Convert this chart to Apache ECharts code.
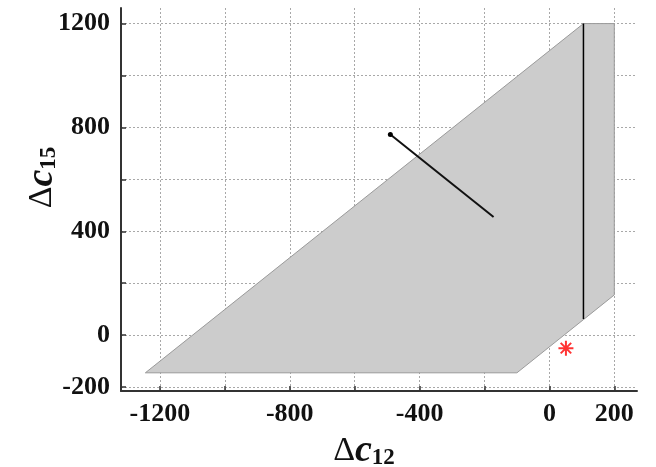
<!DOCTYPE html>
<html>
<head>
<meta charset="utf-8">
<script src="https://cdn.jsdelivr.net/npm/echarts@6/dist/echarts.min.js"></script>
<style>html,body{margin:0;padding:0;background:#fff}#c{width:656px;height:467px}</style>
</head>
<body>
<div id="c"></div>
<script>
// Tick positions and labels
const xTicks = [-1200, -1000, -800, -600, -400, -200, 0, 200];
const xTickLabels = [-1200, -800, -400, 0, 200];
const yTicks = [-200, 0, 200, 400, 600, 800, 1000, 1200];
const yTickLabels = [-200, 0, 400, 800, 1200];

// Feasible region polygon (vertices)
const regionX = [-1245, -100, 200, 200, 105];
const regionY = [-145, -145, 155, 1200, 1200];

// Vertical boundary line
const boundaryX = [105, 105];
const boundaryY = [1200, 62];

// Path segment
const pathX = [-490, -172];
const pathY = [773, 455];

// Red marker
const markerX = [51];
const markerY = [-50];

const FONT = '"Liberation Serif", "DejaVu Serif", serif';
const chart = echarts.init(document.getElementById('c'), null, {renderer: 'canvas'});

const nameRich = {
  d: {fontFamily: FONT, fontSize: 34, fontWeight: 'normal', color: '#111'},
  c: {fontFamily: FONT, fontSize: 38, fontStyle: 'italic', fontWeight: 'bold', color: '#111'},
  s: {fontFamily: FONT, fontSize: 23, fontWeight: 'bold', color: '#111', verticalAlign: 'bottom', padding: [14, 0, 0, 0]}
};

const axisColor = '#333';
const gridStyle = {show: true, lineStyle: {color: '#a8a8a8', type: [2, 2], width: 1}};
const fmt = v => String(v);

const option = {
  animation: false,
  grid: {left: 121, right: 19, top: 8, bottom: 76, containLabel: false, outerBoundsMode: 'none'},
  xAxis: {
    type: 'value', min: -1320, max: 270,
    name: '{d|Δ}{c|c}{s|12}', nameLocation: 'middle', nameGap: 34,
    nameTextStyle: {rich: nameRich, padding: [0, 30, 0, 0]},
    axisLine: {show: true, onZero: false, lineStyle: {color: axisColor, width: 2}},
    axisTick: {show: true, inside: true, length: 5, customValues: xTicks, lineStyle: {color: axisColor, width: 1.5}},
    axisLabel: {customValues: xTickLabels, formatter: fmt, margin: 10, fontFamily: FONT, fontWeight: 'bold', fontSize: 26, color: '#111'},
    splitLine: gridStyle
  },
  yAxis: {
    type: 'value', min: -215, max: 1260,
    name: '{d|Δ}{c|c}{s|15}', nameLocation: 'middle', nameGap: 60, nameRotate: 90,
    nameMoveOverlap: false,
    nameTextStyle: {rich: nameRich, padding: [0, 0, 0, 44]},
    axisLine: {show: true, onZero: false, lineStyle: {color: axisColor, width: 2}},
    axisTick: {show: true, inside: true, length: 5, customValues: yTicks, lineStyle: {color: axisColor, width: 1.5}},
    axisLabel: {customValues: yTickLabels, formatter: fmt, margin: 11, fontFamily: FONT, fontWeight: 'bold', fontSize: 26, color: '#111'},
    splitLine: gridStyle
  },
  series: [
    {
      type: 'custom',
      data: regionX.map((x, i) => [x, regionY[i]]),
      renderItem: function (params, api) {
        if (params.dataIndex !== 0) return null;
        const pts = regionX.map((x, i) => api.coord([x, regionY[i]]));
        return {
          type: 'polygon',
          shape: {points: pts},
          style: {fill: '#cccccc', stroke: '#9a9a9a', lineWidth: 1}
        };
      },
      z: 1,
      silent: true
    },
    {
      type: 'line',
      data: boundaryX.map((x, i) => [x, boundaryY[i]]),
      showSymbol: false,
      lineStyle: {color: '#000', width: 1.5},
      z: 3
    },
    {
      type: 'line',
      data: pathX.map((x, i) => [x, pathY[i]]),
      symbol: 'circle',
      symbolSize: function (v, p) { return p.dataIndex === 0 ? 5 : 0; },
      showSymbol: true,
      itemStyle: {color: '#000'},
      lineStyle: {color: '#111', width: 2},
      z: 3
    },
    {
      type: 'scatter',
      data: markerX.map((x, i) => [x, markerY[i]]),
      symbol: 'path://M10,0L10,20M0,10L20,10M3,3L17,17M3,17L17,3',
      symbolSize: 15,
      itemStyle: {color: 'rgba(0,0,0,0)', borderColor: '#ff0000', borderWidth: 2},
      z: 4
    }
  ]
};
chart.setOption(option);
</script>
</body>
</html>
